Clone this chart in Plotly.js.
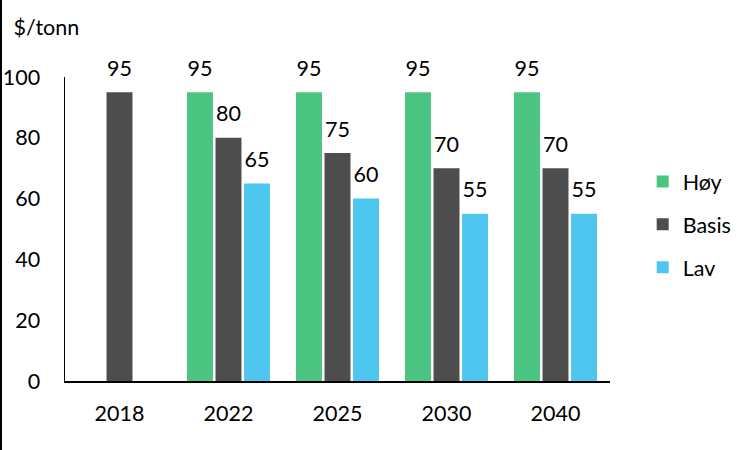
<!DOCTYPE html>
<html>
<head>
<meta charset="utf-8">
<script src="https://cdn.plot.ly/plotly-3.0.1.min.js"></script>
<style>
  html, body { margin: 0; padding: 0; background: #fff; }
  #wrap { position: relative; width: 751px; height: 450px; }
  #edge { position: absolute; left: 0; top: 0; width: 2px; height: 450px; background: #000; }
</style>
</head>
<body>
<div id="wrap">
  <div id="chart"></div>
  <div id="edge"></div>
</div>
<script>
  // price paths per scenario, $/tonn
  const years = ["2018", "2022", "2025", "2030", "2040"];
  const hoy = [null, 95, 95, 95, 95];
  const basis = [95, 80, 75, 70, 70];
  const lav = [null, 65, 60, 55, 55];

  const seriesNames = ["Høy", "Basis", "Lav"];
  const seriesColors = ["#4cc482", "#4d4d4d", "#4fc6f0"];
  const seriesValues = [hoy, basis, lav];

  const font = "Lato, 'Open Sans', sans-serif";
  const fs = 21.5;

  const bars = seriesValues.map((vals, i) => ({
    type: "bar",
    name: seriesNames[i],
    x: years,
    y: vals,
    marker: { color: seriesColors[i] },
    legendgroup: seriesNames[i],
    hovertemplate: seriesNames[i] + " %{x}: %{y}<extra></extra>",
  }));

  // value labels, grouped like the bars
  const labels = seriesValues.map((vals, i) => ({
    type: "scatter",
    mode: "markers+text",
    x: years,
    y: vals,
    text: vals.map((v) => (v == null ? "" : String(v))),
    textposition: "top center",
    textfont: { size: fs, color: "#000", family: font },
    marker: { size: 16, opacity: 0 },
    showlegend: false,
    hoverinfo: "skip",
    cliponaxis: false,
  }));

  const layout = {
    width: 751,
    height: 450,
    paper_bgcolor: "#fff",
    plot_bgcolor: "#fff",
    font: { family: font, size: fs, color: "#000" },
    margin: { l: 65, r: 141, t: 77, b: 69 },
    barmode: "group",
    bargap: 0.215,
    bargroupgap: 0.09,
    scattermode: "group",
    scattergap: 0.215,
    title: {
      text: "$/tonn",
      x: 0.018,
      xanchor: "left",
      y: 0.94,
      yanchor: "middle",
      font: { size: fs, color: "#000", family: font },
    },
    xaxis: {
      type: "category",
      showline: true,
      linecolor: "#000",
      linewidth: 1.5,
      showgrid: false,
      ticks: "",
      ticklabelstandoff: 13,
      tickfont: { size: fs, color: "#000", family: font },
    },
    yaxis: {
      range: [0, 100],
      dtick: 20,
      showline: true,
      linecolor: "#000",
      linewidth: 1.5,
      showgrid: false,
      zeroline: false,
      ticks: "",
      ticklabelstandoff: 19,
      tickfont: { size: fs, color: "#000", family: font },
    },
    legend: {
      x: 1.06,
      xanchor: "left",
      y: 0.515,
      yanchor: "middle",
      traceorder: "grouped",
      tracegroupgap: 12,
      font: { size: fs, color: "#000", family: font },
      itemwidth: 30,
    },
    showlegend: true,
  };

  Plotly.newPlot("chart", bars.concat(labels), layout, { displayModeBar: false, staticPlot: true });
</script>
</body>
</html>
